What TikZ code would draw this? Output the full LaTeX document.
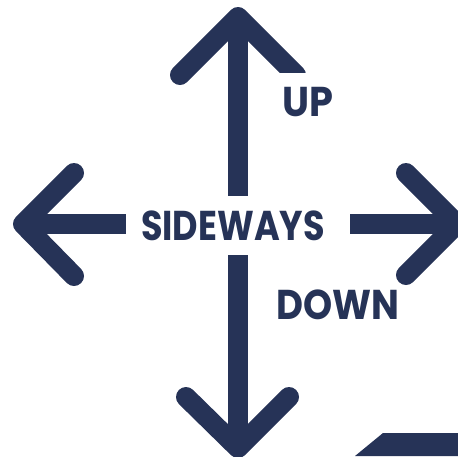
\documentclass[tikz,border=0pt]{standalone}
\usepackage{fontspec}
\setsansfont{Poppins}
\usetikzlibrary{positioning}
\definecolor{navy}{RGB}{38,51,87}
\newcommand\narrow[2]{\scalebox{#1}[1]{#2}}
\tikzset{
  px/.style={x=0.2mm, y=-0.2mm},
  shaft/.style={draw=navy, line width=4mm},
  head/.style={draw=navy, line width=4mm, line cap=round, line join=round},
  lbl/.style={font=\sffamily\bfseries\fontsize{23.7}{24}\selectfont,
              text=navy, inner sep=0pt},
  gap/.style={fill=white, minimum height=11.8mm},
  hubbox/.style={minimum width=44.8mm, minimum height=11.8mm}
}

\begin{document}
\begin{tikzpicture}[px]
    \useasboundingbox (0,0) rectangle (458,456);

    % arrow tips
    \coordinate (upTip) at (238,17);
    \coordinate (dnTip) at (238,448);
    \coordinate (ltTip) at (23,224);
    \coordinate (rtTip) at (457,224);
    \node[hubbox] (hub) at (238,225.5) {};

    % shafts stop at the box round the middle label
    \draw[shaft] (upTip) -- (upTip |- hub.north);
    \draw[shaft] (dnTip) -- (dnTip |- hub.south);
    \draw[shaft] (ltTip) -- (ltTip -| hub.west);
    \draw[shaft] (rtTip) -- (rtTip -| hub.east);

    % heads
    \draw[head] (180,75) -- (upTip) -- (296,75);
    \draw[head] (186,397) -- (dnTip) -- (289,397);
    \draw[head] (74,173) -- (ltTip) -- (74,276);
    \draw[head] (406,173) -- (rtTip) -- (406,275);

    \node[lbl] (side) at (233,225.5) {\narrow{0.84}{SIDEWAYS}};
    \node[lbl, gap, minimum width=13mm] (up) at (307.5,102.5) {\narrow{0.92}{UP}};
    \node[lbl] (down) at (338,305) {\narrow{0.89}{DOWN}};

    \fill[navy] (355,456) -- (383,433) -- (458,433) -- (458,456) -- cycle;
\end{tikzpicture}
\end{document}
